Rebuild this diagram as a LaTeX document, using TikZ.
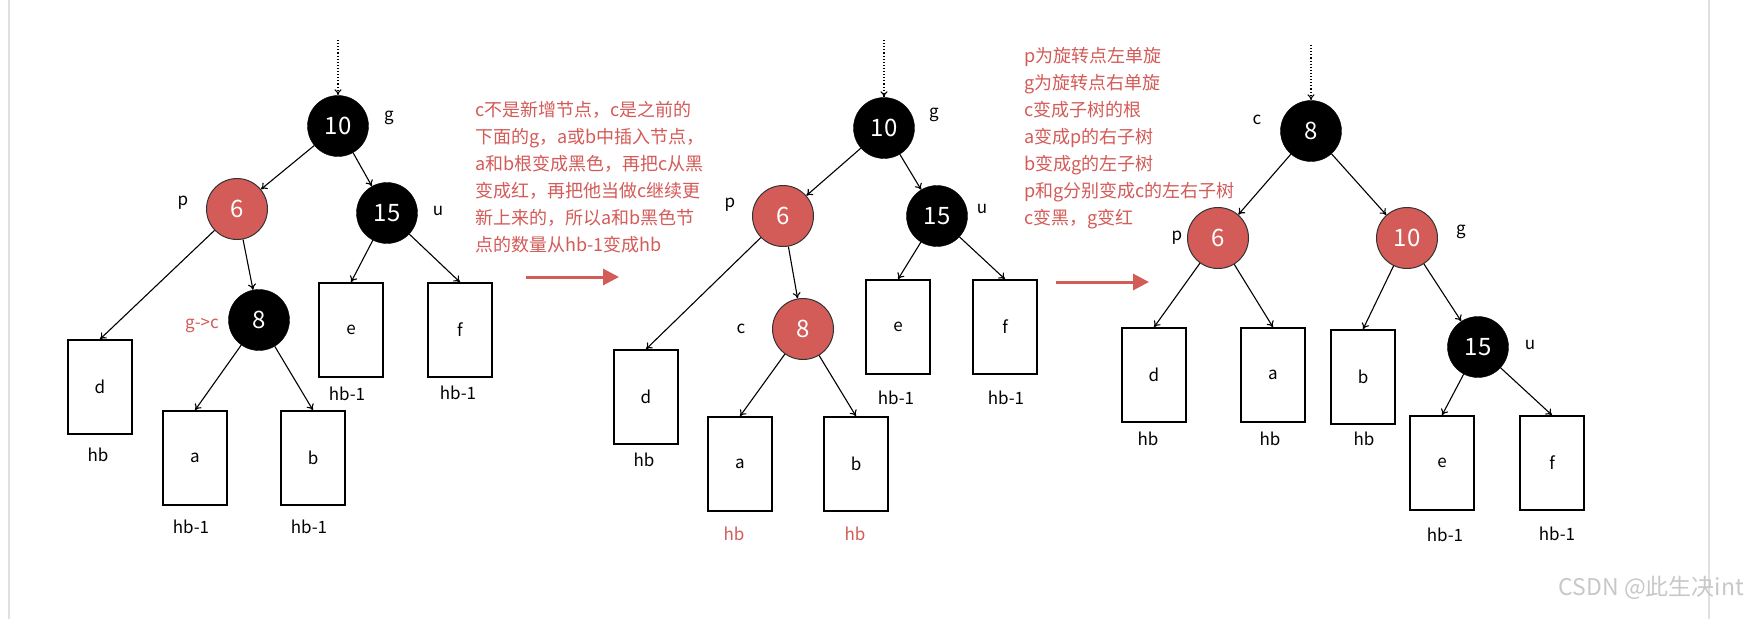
\documentclass[tikz,border=0pt]{standalone}
\usepackage{fontspec}
\setmainfont{Noto Sans CJK SC}
\usetikzlibrary{arrows.meta}
\definecolor{rb}{HTML}{D35B58}
\definecolor{wm}{HTML}{C8C8C8}
\begin{document}
\begin{tikzpicture}[x=1pt,y=-1pt,
  blk/.style={circle,fill=black,draw=black,text=white,minimum size=61pt,inner sep=0pt,font=\fontsize{24}{24}\selectfont},
  rd/.style={circle,fill=rb,draw=black!80,line width=1pt,text=white,minimum size=61pt,inner sep=0pt,font=\fontsize{24}{24}\selectfont},
  box/.style={draw=black,line width=1.6pt,minimum width=64pt,minimum height=94pt,inner sep=0pt,font=\fontsize{17}{17}\selectfont},
  lbl/.style={font=\fontsize{17}{17}\selectfont,inner sep=0pt},
  rlbl/.style={lbl,text=rb},
  note/.style={text=rb,font=\fontsize{18}{27}\selectfont,align=left,anchor=north west,inner sep=0pt},
  e/.style={-{To[length=6pt,width=8pt]},line width=1.1pt},
  dot/.style={-{To[length=6pt,width=7pt]},dotted,line width=1.1pt},
  big/.style={-{Triangle[length=16pt,width=16pt]},rb,line width=3pt}]
\useasboundingbox (0,0) rectangle (1744,619);
\fill[white] (0,0) rectangle (1744,619);
\draw[black!12,line width=1.5pt] (9,0) -- (9,619);
\draw[black!12,line width=1.5pt] (1709,0) -- (1709,619);
% ---------- tree 1
\coordinate (t1) at (338,40);
\node[blk] (g1) at (338,126) {10};
\node[rd] (p1) at (237,209) {6};
\node[blk] (u1) at (387,213) {15};
\node[blk] (c1) at (259,320) {8};
\node[box] (d1) at (100,387) {d};
\node[box] (a1) at (195,458) {a};
\node[box] (b1) at (313,458) {b};
\node[box] (e1) at (351,330) {e};
\node[box] (f1) at (460,330) {f};
\node[lbl] (lg1) at (389,118) {g};
\node[lbl] (lp1) at (183,203) {p};
\node[lbl] (lu1) at (438,211) {u};
\node[rlbl] (lc1) at (202,326) {g->c};
\node[lbl] (hd1) at (98,455) {hb};
\node[lbl] (ha1) at (191,527) {hb-1};
\node[lbl] (hb1) at (309,527) {hb-1};
\node[lbl] (he1) at (347,394) {hb-1};
\node[lbl] (hf1) at (458,393) {hb-1};
\draw[dot] (t1) -- (g1);
\draw[e] (g1) -- (p1);
\draw[e] (g1) -- (u1);
\draw[e] (p1) -- (d1.north);
\draw[e] (p1) -- (c1);
\draw[e] (c1) -- (a1.north);
\draw[e] (c1) -- (b1.north);
\draw[e] (u1) -- (e1.north);
\draw[e] (u1) -- (f1.north);
\node[note] (n1) at (475,101) {c不是新增节点，c是之前的\\下面的g，a或b中插入节点，\\a和b根变成黑色，再把c从黑\\变成红，再把他当做c继续更\\新上来的，所以a和b黑色节\\点的数量从hb-1变成hb};
\coordinate (a1s) at (526,277);
\coordinate (a1e) at (619,277);
\draw[big] (a1s) -- (a1e);
% ---------- tree 2
\coordinate (t2) at (884,40);
\node[blk] (g2) at (884,128) {10};
\node[rd] (p2) at (783,216) {6};
\node[blk] (u2) at (937,216) {15};
\node[rd] (c2) at (803,329) {8};
\node[box] (d2) at (646,397) {d};
\node[box] (a2) at (740,464) {a};
\node[box] (b2) at (856,464) {b};
\node[box] (e2) at (898,327) {e};
\node[box] (f2) at (1005,327) {f};
\node[lbl] (lg2) at (934,115) {g};
\node[lbl] (lp2) at (730,205) {p};
\node[lbl] (lu2) at (982,209) {u};
\node[lbl] (lc2) at (741,329) {c};
\node[lbl] (hd2) at (644,460) {hb};
\node[rlbl] (ha2) at (734,534) {hb};
\node[rlbl] (hb2) at (855,534) {hb};
\node[lbl] (he2) at (896,398) {hb-1};
\node[lbl] (hf2) at (1006,398) {hb-1};
\draw[dot] (t2) -- (g2);
\draw[e] (g2) -- (p2);
\draw[e] (g2) -- (u2);
\draw[e] (p2) -- (d2.north);
\draw[e] (p2) -- (c2);
\draw[e] (c2) -- (a2.north);
\draw[e] (c2) -- (b2.north);
\draw[e] (u2) -- (e2.north);
\draw[e] (u2) -- (f2.north);
\node[note] (n2) at (1024,47) {p为旋转点左单旋\\g为旋转点右单旋\\c变成子树的根\\a变成p的右子树\\b变成g的左子树\\p和g分别变成c的左右子树\\c变黑，g变红};
\coordinate (a2s) at (1056,282);
\coordinate (a2e) at (1149,282);
\draw[big] (a2s) -- (a2e);
% ---------- tree 3
\coordinate (t3) at (1311,45);
\node[blk] (c3) at (1311,131) {8};
\node[rd] (p3) at (1218,238) {6};
\node[rd] (g3) at (1407,238) {10};
\node[blk] (u3) at (1478,347) {15};
\node[box] (d3) at (1154,375) {d};
\node[box] (a3) at (1273,375) {a};
\node[box] (b3) at (1363,377) {b};
\node[box] (e3) at (1442,463) {e};
\node[box] (f3) at (1552,463) {f};
\node[lbl] (lc3) at (1257,120) {c};
\node[lbl] (lp3) at (1177,238) {p};
\node[lbl] (lg3) at (1461,232) {g};
\node[lbl] (lu3) at (1530,345) {u};
\node[lbl] (hd3) at (1148,439) {hb};
\node[lbl] (ha3) at (1270,439) {hb};
\node[lbl] (hb3) at (1364,439) {hb};
\node[lbl] (he3) at (1445,535) {hb-1};
\node[lbl] (hf3) at (1557,534) {hb-1};
\draw[dot] (t3) -- (c3);
\draw[e] (c3) -- (p3);
\draw[e] (c3) -- (g3);
\draw[e] (p3) -- (d3.north);
\draw[e] (p3) -- (a3.north);
\draw[e] (g3) -- (b3.north);
\draw[e] (g3) -- (u3);
\draw[e] (u3) -- (e3.north);
\draw[e] (u3) -- (f3.north);
\node[text=wm,font=\fontsize{23}{23}\selectfont,anchor=east,inner sep=0pt] (csdn) at (1744,588) {CSDN @此生决int};
\end{tikzpicture}
\end{document}
